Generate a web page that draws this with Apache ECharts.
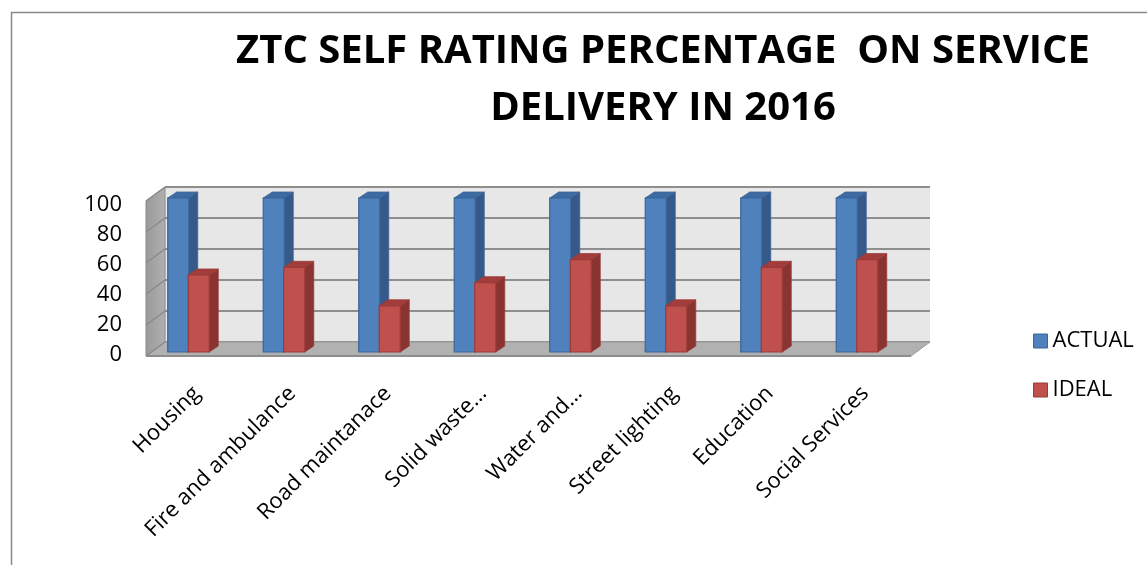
<!DOCTYPE html>
<html>
<head>
<meta charset="utf-8">
<script src="https://cdn.jsdelivr.net/npm/echarts@6/dist/echarts.min.js"></script>
<style>html,body{margin:0;padding:0;background:#fff;}#c{width:1147px;height:565px;}</style>
</head>
<body>
<div id="c"></div>
<script>
const titleText = 'ZTC SELF RATING PERCENTAGE  ON SERVICE\nDELIVERY IN 2016';
const categories = ['Housing', 'Fire and ambulance', 'Road maintanace', 'Solid waste...', 'Water and...', 'Street lighting', 'Education', 'Social Services'];
const actual = [100, 100, 100, 100, 100, 100, 100, 100];
const ideal = [50, 55, 30, 45, 60, 30, 55, 60];
const yMin = 0, yMax = 100, yInterval = 20;
const yTicks = [0, 20, 40, 60, 80, 100];

const FONT = 'Open Sans';
const DX = 9, DY = -6;          // bar depth offsets
const WDX = -19, WDY = 14;      // wall/floor depth offsets

function barRenderer(side, c) {
  return function (params, api) {
    const i = api.value(0), v = api.value(1);
    const top = api.coord([i, v]);
    const bot = api.coord([i, 0]);
    const band = api.size([1, 0])[0];
    const w = band * 0.22;
    const x1 = side < 0 ? top[0] - w : top[0] - 0.5;
    const x2 = x1 + w;
    const yt = top[1], yb = bot[1];
    return {
      type: 'group',
      children: [
        { type: 'polygon', shape: { points: [[x2, yt], [x2 + DX, yt + DY], [x2 + DX, yb + DY], [x2, yb]] },
          style: { fill: c.side, stroke: c.edge, lineWidth: 0.8 } },
        { type: 'polygon', shape: { points: [[x1, yt], [x1 + DX, yt + DY], [x2 + DX, yt + DY], [x2, yt]] },
          style: { fill: c.top, stroke: c.edge, lineWidth: 0.8 } },
        { type: 'rect', shape: { x: x1, y: yt, width: w, height: yb - yt },
          style: { fill: c.front, stroke: c.edge, lineWidth: 1.2 } }
      ]
    };
  };
}

const blue = { front: '#4f81bd', side: '#36598a', top: '#3f6ba3', edge: '#3a659a' };
const red = { front: '#c0504d', side: '#8a3432', top: '#a23d3b', edge: '#9a3b39' };

const chart = echarts.init(document.getElementById('c'), null, { renderer: 'canvas' });
chart.setOption({
  animation: false,
  backgroundColor: '#fff',
  title: {
    text: titleText,
    left: 658, top: 18, textAlign: 'center',
    textStyle: { fontFamily: FONT, fontWeight: 'bold', fontSize: 40, lineHeight: 57, color: '#000' }
  },
  graphic: [{
    type: 'rect', z: -10, silent: true,
    shape: { x: 11.5, y: 12.5, width: 1200, height: 600 },
    style: { fill: 'none', stroke: '#8a8a8a', lineWidth: 1.5 }
  }],
  legend: {
    orient: 'vertical', left: 1028, top: 325,
    itemWidth: 14, itemHeight: 14, itemGap: 27,
    textStyle: { fontFamily: FONT, fontSize: 22, color: '#000', lineHeight: 22 },
    data: [
      { name: 'ACTUAL', icon: 'rect', itemStyle: { color: blue.front, borderColor: blue.edge, borderWidth: 1 } },
      { name: 'IDEAL', icon: 'rect', itemStyle: { color: red.front, borderColor: red.edge, borderWidth: 1 } }
    ]
  },
  grid: [
    { left: 141, right: 242, top: 198, bottom: 213 },                 // bars front plane
    { left: 165, right: 217, top: 187, bottom: 223, show: true, backgroundColor: '#e7e7e7', borderWidth: 0 }, // back wall
    { left: 149, right: 234, top: 205, bottom: 210 }                  // labels
  ],
  xAxis: [
    { gridIndex: 0, type: 'category', data: categories, show: false },
    { gridIndex: 1, type: 'value', min: 0, max: 1, show: false },
    { gridIndex: 2, type: 'category', data: categories,
      axisLine: { show: false }, axisTick: { show: false },
      axisLabel: { rotate: 45, interval: 0, margin: 35, fontFamily: FONT, fontSize: 22, color: '#000' } }
  ],
  yAxis: [
    { gridIndex: 0, type: 'value', min: yMin, max: yMax, interval: yInterval, show: false },
    { gridIndex: 1, type: 'value', min: yMin, max: yMax, interval: yInterval,
      axisLine: { show: false }, axisTick: { show: false }, axisLabel: { show: false },
      splitLine: { show: true, lineStyle: { color: '#8e8e8e', width: 2 } } },
    { gridIndex: 2, type: 'value', min: yMin, max: yMax, interval: yInterval,
      axisLine: { show: false }, axisTick: { show: false }, splitLine: { show: false },
      axisLabel: { margin: 27, fontFamily: FONT, fontSize: 22, color: '#000' } }
  ],
  series: [
    {
      name: 'walls', type: 'custom', xAxisIndex: 1, yAxisIndex: 1, silent: true, z: 1,
      data: [[0, 0]],
      renderItem: function (params, api) {
        const cs = params.coordSys;
        const x = cs.x, y = cs.y, w = cs.width, h = cs.height;
        const children = [
          { type: 'polygon', shape: { points: [[x + WDX, y + WDY], [x, y], [x, y + h], [x + WDX, y + h + WDY]] },
            style: { fill: new echarts.graphic.LinearGradient(0, 0, 1, 0, [{ offset: 0, color: '#9a9a9a' }, { offset: 1, color: '#b0b0b0' }]), stroke: '#8a8a8a', lineWidth: 1 } },
          { type: 'polygon', shape: { points: [[x + WDX, y + h + WDY], [x, y + h], [x + w, y + h], [x + w + WDX, y + h + WDY]] },
            style: { fill: '#b1b1b1', stroke: '#9a9a9a', lineWidth: 1 } },
          { type: 'line', shape: { x1: x + WDX, y1: y + h + WDY, x2: x + w + WDX, y2: y + h + WDY },
            style: { stroke: '#8c8c8c', lineWidth: 2 } }
        ];
        yTicks.forEach(function (t) {
          const yy = api.coord([0, t])[1];
          children.push({ type: 'line', shape: { x1: x + WDX, y1: yy + WDY, x2: x, y2: yy },
            style: { stroke: '#8a8a8a', lineWidth: 1.5 } });
        });
        return { type: 'group', children: children };
      }
    },
    {
      name: 'ACTUAL', type: 'custom', xAxisIndex: 0, yAxisIndex: 0, z: 3,
      itemStyle: { color: blue.front },
      encode: { x: 0, y: 1 },
      data: actual.map(function (v, i) { return [i, v]; }),
      renderItem: barRenderer(-1, blue)
    },
    {
      name: 'IDEAL', type: 'custom', xAxisIndex: 0, yAxisIndex: 0, z: 4,
      itemStyle: { color: red.front },
      encode: { x: 0, y: 1 },
      data: ideal.map(function (v, i) { return [i, v]; }),
      renderItem: barRenderer(1, red)
    }
  ]
});
</script>
</body>
</html>
